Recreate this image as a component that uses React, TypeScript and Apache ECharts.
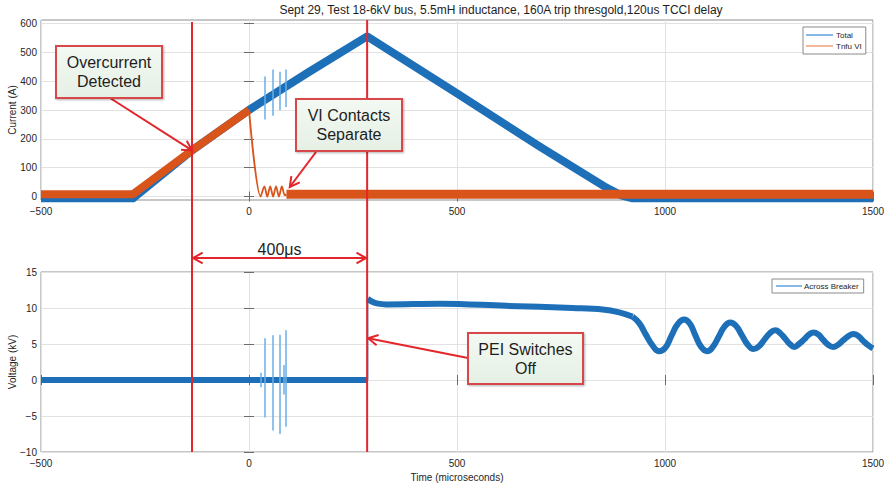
import React, { useEffect, useRef } from "react";
import * as echarts from "echarts";

// ---------- data ----------
const xTicks = [-500, 0, 500, 1000, 1500];
const currentTicks = [0, 100, 200, 300, 400, 500, 600];
const voltageTicks = [-10, -5, 0, 5, 10, 15];

// Total current (A)
const totalTime = [-500, -279, -137, 0, 142, 284, 500, 700, 860, 895, 920, 1500];
const totalAmps = [-6, -6, 160, 300, 430, 555, 358, 172, 30, 4, -6, -6];

// Tnfu VI current (A)
const tnfuRampTime = [-500, -279, -137, 0];
const tnfuRampAmps = [8, 8, 160, 300];
const tnfuDropTime = [0, 28, 37, 44, 51, 58, 65, 72, 79, 86, 90];
const tnfuDropAmps = [300, 0, 35, 0, 35, 0, 35, 0, 35, 4, 8];
const tnfuFlatTime = [90, 1500];
const tnfuFlatAmps = [8, 8];

// short current bursts on Total
const currentSpikeTime = [38, 57, 74, 88];
const currentSpikeLow = [267, 280, 299, 310];
const currentSpikeHigh = [416, 440, 433, 440];

// Across Breaker voltage (kV)
const voltPreTime = [-500, 285];
const voltPreKV = [0, 0];
const voltStepTime = [285, 285];
const voltStepKV = [0, 11.3];
const voltDecayTime = [285, 295, 310, 330, 458, 618, 778, 850, 890, 922];
const voltDecayKV = [11.3, 10.9, 10.6, 10.5, 10.6, 10.3, 10.0, 9.8, 9.4, 8.8];
const voltRingTime = [922, 938, 954, 970, 986, 1001, 1016, 1031, 1046, 1060, 1073, 1087, 1101, 1115, 1129, 1143, 1157, 1171, 1185, 1199, 1213, 1226, 1239, 1252, 1265, 1277, 1288, 1300, 1311, 1322, 1334, 1346, 1357, 1369, 1380, 1392, 1404, 1416, 1428, 1441, 1453, 1465, 1477, 1489, 1500];
const voltRingKV = [8.8, 7.9, 6.3, 4.8, 4.0, 4.5, 6.2, 7.8, 8.4, 7.8, 6.2, 4.6, 4.0, 4.6, 6.0, 7.4, 8.0, 7.5, 6.2, 4.9, 4.3, 4.7, 5.6, 6.5, 6.9, 6.5, 5.8, 5.0, 4.6, 5.0, 5.6, 6.3, 6.6, 6.3, 5.6, 4.9, 4.6, 4.9, 5.5, 6.1, 6.4, 6.1, 5.4, 4.8, 4.4];

const voltSpikeTime = [28, 39, 56, 73, 83, 88];
const voltSpikeLow = [-1, -5.2, -7, -7.5, -2, -6.5];
const voltSpikeHigh = [1, 5.8, 6.2, 6.3, 2.1, 6.9];

// annotations
const markerTimes = [-137, 284]; // overcurrent detected, PEI switches off
const overcurrentPoint = [-137, 160];
const contactsPoint = [98, 33];
const switchPoint = [284, 5.8];

// ---------- styling ----------
const FONT = "'Liberation Sans', Arial, Helvetica, sans-serif";
const BLUE = "#1d6fb8";
const ORANGE = "#d9541b";
const LIGHT_BLUE = "#6aaee6";
const RED = "#e2262c";
const TXT = "#262626";
const GRIDLINE = "#e2e2e2";

const zip = (a: number[], b: number[]) => a.map((v, i) => [v, b[i]]);
const minus = (v: number) => String(v).replace("-", "\u2212");

const baseX = (gridIndex: number, position: "top" | "bottom", labels: boolean, extra: any = {}) => ({
  type: "value",
  gridIndex,
  position,
  min: xTicks[0],
  max: xTicks[xTicks.length - 1],
  interval: 500,
  axisLine: { show: false },
  axisTick: { show: true, inside: true, length: 5, lineStyle: { color: "#6b6b6b" } },
  axisLabel: labels
    ? { show: true, margin: 6, fontSize: 10, color: TXT, fontFamily: FONT, formatter: minus }
    : { show: false },
  splitLine: { show: labels, lineStyle: { color: GRIDLINE, width: 1 } },
  ...extra,
});

const currentY = (position: "left" | "right", labels: boolean, extra: any = {}) => ({
  type: "value",
  gridIndex: 0,
  position,
  min: -12,
  max: 612,
  axisLine: { show: false },
  axisTick: { show: true, inside: true, length: 5, customValues: currentTicks, lineStyle: { color: "#6b6b6b" } },
  axisLabel: labels
    ? { show: true, margin: 4, fontSize: 10, color: TXT, fontFamily: FONT, customValues: currentTicks, formatter: minus }
    : { show: false, customValues: currentTicks },
  splitLine: { show: labels, lineStyle: { color: GRIDLINE, width: 1 } },
  ...extra,
});

const voltageY = (position: "left" | "right", labels: boolean, extra: any = {}) => ({
  type: "value",
  gridIndex: 1,
  position,
  min: voltageTicks[0],
  max: voltageTicks[voltageTicks.length - 1],
  interval: 5,
  axisLine: { show: false },
  axisTick: { show: true, inside: true, length: 5, lineStyle: { color: "#6b6b6b" } },
  axisLabel: labels
    ? { show: true, margin: 4, fontSize: 10, color: TXT, fontFamily: FONT, formatter: minus }
    : { show: false },
  splitLine: { show: labels, lineStyle: { color: GRIDLINE, width: 1 } },
  ...extra,
});

const yName = (name: string) => ({
  name,
  nameLocation: "middle",
  nameGap: 24,
  nameMoveOverlap: false,
  nameTextStyle: { fontSize: 10, color: TXT, fontFamily: FONT },
});

const lineSeries = (name: string, data: number[][], color: string, width: number, grid: number, extra: any = {}) => ({
  type: "line",
  name,
  data,
  xAxisIndex: grid === 0 ? 0 : 2,
  yAxisIndex: grid === 0 ? 0 : 2,
  showSymbol: false,
  symbol: "none",
  lineStyle: { color, width, join: "round", cap: "butt" },
  itemStyle: { color },
  emphasis: { disabled: true },
  silent: true,
  ...extra,
});

const spikes = (t: number[], lo: number[], hi: number[]) => ({
  silent: true,
  symbol: ["none", "none"],
  label: { show: false },
  emphasis: { disabled: true },
  lineStyle: { color: LIGHT_BLUE, width: 1.5, type: "solid" },
  data: t.map((v, i) => [{ coord: [v, lo[i]] }, { coord: [v, hi[i]] }]),
});

const gridBase = {
  left: 41,
  right: 14,
  height: 180,
  show: true,
  borderColor: "#8f8f8f",
  borderWidth: 1,
  backgroundColor: "#fff",
  containLabel: false,
  outerBoundsMode: "none",
};

const option: any = {
  animation: false,
  backgroundColor: "#ffffff",
  textStyle: { fontFamily: FONT },
  grid: [
    { ...gridBase, top: 20 },
    { ...gridBase, top: 272 },
  ],
  xAxis: [
    baseX(0, "bottom", true),
    baseX(0, "top", false),
    baseX(1, "bottom", true, {
      name: "Time (microseconds)",
      nameLocation: "middle",
      nameGap: 20,
      nameMoveOverlap: false,
      nameTextStyle: { fontSize: 10, color: TXT, fontFamily: FONT },
    }),
    baseX(1, "top", false),
  ],
  yAxis: [
    currentY("left", true, yName("Current (A)")),
    currentY("right", false),
    voltageY("left", true, yName("Voltage (kV)")),
    voltageY("right", false),
  ],
  legend: [
    {
      left: 803,
      top: 27,
      orient: "vertical",
      icon: "rect",
      itemWidth: 27,
      itemHeight: 1.5,
      itemGap: 1,
      padding: [3, 4, 3, 3],
      borderColor: "#8a8a8a",
      borderWidth: 1,
      backgroundColor: "#fff",
      selectedMode: false,
      textStyle: { fontSize: 8, lineHeight: 10, color: TXT, fontFamily: FONT, padding: [0, 0, 0, -2] },
      data: [
        { name: "Total", itemStyle: { color: "#5ea2de" } },
        { name: "Tnfu VI", itemStyle: { color: "#f0a27c" } },
      ],
    },
    {
      left: 772,
      top: 279,
      orient: "vertical",
      icon: "rect",
      itemWidth: 26,
      itemHeight: 1.5,
      padding: [2, 5, 2, 4],
      borderColor: "#8a8a8a",
      borderWidth: 1,
      backgroundColor: "#fff",
      selectedMode: false,
      textStyle: { fontSize: 8, lineHeight: 10, color: TXT, fontFamily: FONT, padding: [0, 0, 0, -3] },
      data: [{ name: "Across Breaker", itemStyle: { color: "#5ea2de" } }],
    },
  ],
  series: [
    lineSeries("Total", zip(totalTime, totalAmps), BLUE, 8, 0, {
      markLine: spikes(currentSpikeTime, currentSpikeLow, currentSpikeHigh),
    }),
    lineSeries("Tnfu VI", zip(tnfuRampTime, tnfuRampAmps), ORANGE, 8, 0),
    lineSeries("Tnfu VI", zip(tnfuDropTime, tnfuDropAmps), ORANGE, 1.8, 0, { smooth: 0.3 }),
    lineSeries("Tnfu VI", zip(tnfuFlatTime, tnfuFlatAmps), ORANGE, 9, 0),
    lineSeries("Across Breaker", zip(voltPreTime, voltPreKV), BLUE, 6, 1, {
      markLine: spikes(voltSpikeTime, voltSpikeLow, voltSpikeHigh),
    }),
    lineSeries("Across Breaker", zip(voltStepTime, voltStepKV), BLUE, 1.5, 1),
    lineSeries("Across Breaker", zip(voltDecayTime, voltDecayKV), BLUE, 6, 1, { smooth: 0.4 }),
    lineSeries("Across Breaker", zip(voltRingTime, voltRingKV), BLUE, 6, 1, { smooth: 0.5 }),
  ],
};

function arrowEls(x1: number, y1: number, x2: number, y2: number, heads: boolean[] = [false, true]) {
  const els: any[] = [
    { type: "line", z: 100, silent: true, shape: { x1, y1, x2, y2 }, style: { stroke: RED, lineWidth: 2 } },
  ];
  const L = 11;
  const th = 0.5;
  const head = (tx: number, ty: number, fx: number, fy: number) => {
    const a = Math.atan2(fy - ty, fx - tx);
    els.push({
      type: "polyline",
      z: 100,
      silent: true,
      shape: {
        points: [
          [tx + L * Math.cos(a + th), ty + L * Math.sin(a + th)],
          [tx, ty],
          [tx + L * Math.cos(a - th), ty + L * Math.sin(a - th)],
        ],
      },
      style: { stroke: RED, lineWidth: 2, fill: null },
    });
  };
  if (heads[1]) head(x2, y2, x1, y1);
  if (heads[0]) head(x1, y1, x2, y2);
  return els;
}

function noteBox(x: number, y: number, w: number, h: number, text: string) {
  return [
    {
      type: "rect",
      z: 110,
      silent: true,
      shape: { x, y, width: w, height: h },
      style: {
        fill: new echarts.graphic.LinearGradient(0, 0, 0, 1, [
          { offset: 0, color: "#f3f9f3" },
          { offset: 1, color: "#e5f0e5" },
        ]),
        stroke: "#d8464a",
        lineWidth: 2,
        shadowBlur: 2,
        shadowOffsetX: 1,
        shadowOffsetY: 1,
        shadowColor: "rgba(0,0,0,0.3)",
      },
    },
    {
      type: "text",
      z: 111,
      silent: true,
      style: {
        text,
        x: x + w / 2,
        y: y + h / 2,
        align: "center",
        verticalAlign: "middle",
        fontSize: 16,
        lineHeight: 19,
        fontFamily: FONT,
        fill: "#1e1e1e",
      },
    },
  ];
}

export default function App() {
  const ref = useRef<HTMLDivElement>(null);
  useEffect(() => {
    const el = ref.current;
    if (!el) return;
    const chart = echarts.init(el, null, { renderer: "svg" });
    chart.setOption(option);

    const px = (g: number, v: number[]) => chart.convertToPixel({ gridIndex: g }, v) as unknown as number[];
    const xL = px(0, [markerTimes[0], 0])[0];
    const xR = px(0, [markerTimes[1], 0])[0];
    const yTop = 22;
    const yBot = px(1, [0, voltageTicks[0]])[1];
    const oc = px(0, overcurrentPoint);
    const vc = px(0, contactsPoint);
    const sw = px(1, switchPoint);

    const graphic: any[] = [
      {
        type: "text",
        z: 100,
        silent: true,
        style: { text: "Sept 29, Test 18-6kV bus, 5.5mH inductance, 160A trip thresgold,120us TCCI delay", x: 501, y: 10, align: "center", verticalAlign: "middle", fontSize: 12, fontFamily: FONT, fill: "#1e1e1e" },
      },
      { type: "line", z: 100, silent: true, shape: { x1: xL, y1: yTop, x2: xL, y2: yBot }, style: { stroke: RED, lineWidth: 2 } },
      { type: "line", z: 100, silent: true, shape: { x1: xR, y1: 20, x2: xR, y2: yBot }, style: { stroke: RED, lineWidth: 2 } },
      ...arrowEls(xL + 1, 258, xR - 1, 258, [true, true]),
      {
        type: "text",
        z: 100,
        silent: true,
        style: { text: "400\u03bcs", x: (xL + xR) / 2, y: 249, align: "center", verticalAlign: "middle", fontSize: 16, fontFamily: FONT, fill: "#1e1e1e" },
      },
      ...arrowEls(110, 98, oc[0], oc[1]),
      ...arrowEls(316, 152, vc[0], vc[1]),
      ...arrowEls(468, 358, sw[0] + 1, sw[1]),
      ...noteBox(56, 46, 106, 52, "Overcurrent\nDetected"),
      ...noteBox(296, 99, 106, 52, "VI Contacts\nSeparate"),
      ...noteBox(468, 333, 115, 51, "PEI Switches\nOff"),
    ];
    chart.setOption({ graphic });
    return () => chart.dispose();
  }, []);
  return (
    <div
      ref={ref}
      style={{ position: "fixed", left: 0, top: 0, width: 887, height: 487, background: "#fff" }}
    />
  );
}
